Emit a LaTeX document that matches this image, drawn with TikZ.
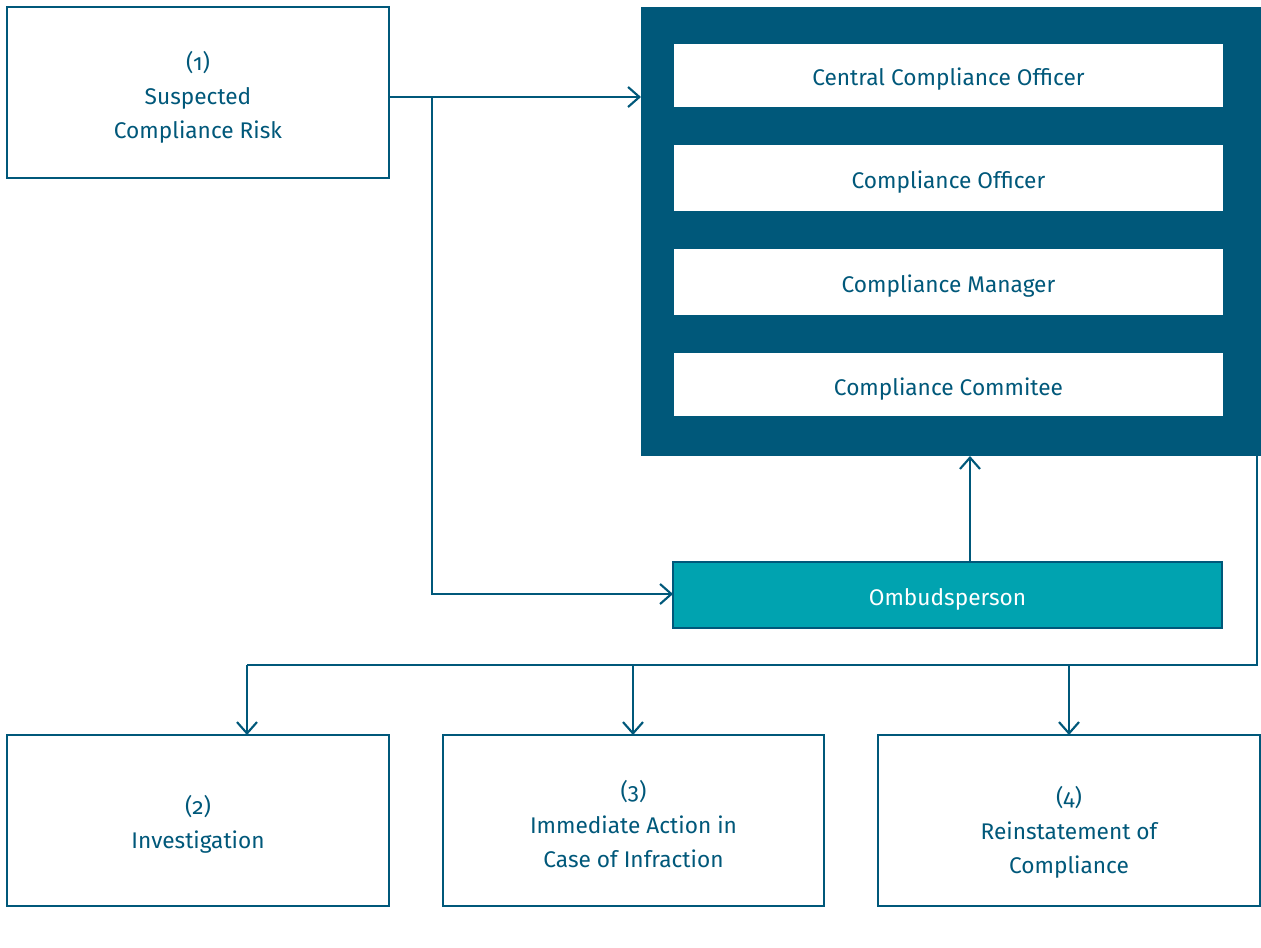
\documentclass[tikz,border=0pt]{standalone}
\usepackage{fontspec}
\setmainfont{Fira Sans}[Numbers=OldStyle]
\usetikzlibrary{arrows.meta}
\definecolor{navy}{HTML}{00587A}
\definecolor{tealf}{HTML}{00A3B0}
\begin{document}
\begin{tikzpicture}[x=0.75pt,y=-0.75pt,
  every node/.style={font=\fontsize{17pt}{25.5pt}\selectfont, text=navy, align=center},
  box/.style={draw=navy, line width=1.6pt, fill=white},
  conn/.style={draw=navy, line width=1.6pt},
  arr/.style={conn, -{Straight Barb[length=8.5pt,width=15pt,line width=1.6pt]}}]
\useasboundingbox (0,0) rectangle (1261,947);
% top-left box
\draw[box] (7,7) rectangle (389,178);
\node (s1) at (198,97) {(1)\\Suspected\\Compliance Risk};
\coordinate (b1r) at (389,97);
% panel
\fill[navy] (641,7) rectangle (1261,456);
\coordinate (pl) at (641,97);
\coordinate (pb) at (970,456);
\fill[white] (674,44) rectangle (1223,107);
\node (c1) at (948.5,79) {Central Compliance Officer};
\fill[white] (674,145) rectangle (1223,211);
\node (c2) at (948.5,182) {Compliance Officer};
\fill[white] (674,249) rectangle (1223,315);
\node (c3) at (948.5,286) {Compliance Manager};
\fill[white] (674,353) rectangle (1223,416);
\node (c4) at (948.5,389) {Compliance Commitee};
% ombudsperson
\draw[draw=navy, line width=1.6pt, fill=tealf] (673,562) rectangle (1222,628);
\node[text=white] (om) at (947.5,599) {Ombudsperson};
\coordinate (oml) at (673,594);
\coordinate (omt) at (970,562);
% bottom boxes
\draw[box] (7,735) rectangle (389,906);
\node (b2) at (198,824) {(2)\\Investigation};
\draw[box] (443,735) rectangle (824,906);
\node (b3) at (633.5,824) {(3)\\Immediate Action in\\Case of Infraction};
\draw[box] (878,735) rectangle (1260,906);
\node (b4) at (1069,832) {(4)\\Reinstatement of\\Compliance};
% connectors
\draw[arr] (b1r) -- (pl);
\coordinate (br) at (432,97);
\draw[arr] (br) |- (oml);
\draw[arr] (omt) -- (pb);
\coordinate (rt) at (1257,456);
\coordinate (rb) at (1257,665);
\coordinate (lb) at (247,665);
\draw[conn] (rt) -- (rb) -- (lb);
\draw[arr] (lb) -- (247,735);
\coordinate (mb) at (633,665);
\draw[arr] (mb) -- (633,735);
\coordinate (nb) at (1069,665);
\draw[arr] (nb) -- (1069,735);
\end{tikzpicture}
\end{document}
